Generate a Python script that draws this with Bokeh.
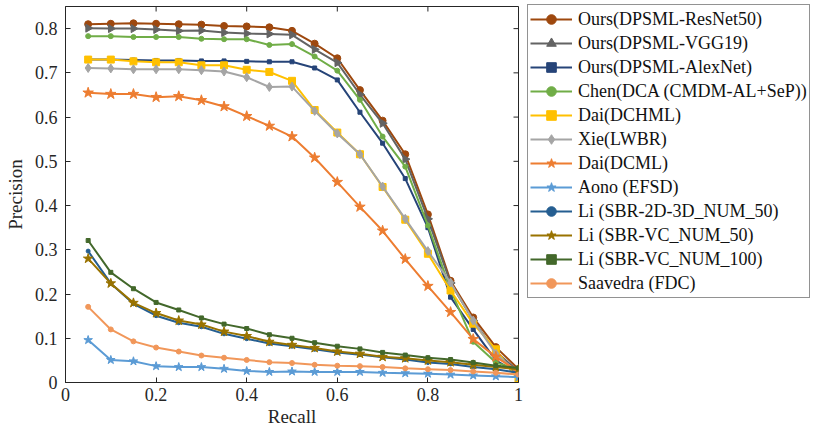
import math
from bokeh.plotting import figure
from bokeh.models import (Range1d, FixedTicker, Legend, LegendItem)
from bokeh.embed import file_html
from bokeh.resources import INLINE

# ---------------- data ----------------
recall = [0.05, 0.10, 0.15, 0.20, 0.25, 0.30, 0.35, 0.40, 0.45, 0.50,
          0.55, 0.60, 0.65, 0.70, 0.75, 0.80, 0.85, 0.90, 0.95, 1.00]

resnet50 = [0.810, 0.811, 0.812, 0.811, 0.810, 0.809, 0.806, 0.805, 0.803, 0.795,
            0.766, 0.733, 0.661, 0.592, 0.516, 0.380, 0.230, 0.147, 0.080, 0.030]
vgg19 = [0.801, 0.800, 0.800, 0.798, 0.795, 0.796, 0.791, 0.789, 0.788, 0.786,
         0.753, 0.723, 0.651, 0.586, 0.505, 0.370, 0.225, 0.140, 0.070, 0.025]
alexnet = [0.730, 0.730, 0.729, 0.728, 0.728, 0.727, 0.727, 0.726, 0.725, 0.725,
           0.711, 0.684, 0.611, 0.541, 0.461, 0.350, 0.193, 0.120, 0.050, 0.020]
chen = [0.783, 0.783, 0.781, 0.781, 0.781, 0.777, 0.776, 0.776, 0.763, 0.765,
        0.737, 0.705, 0.639, 0.556, 0.488, 0.355, 0.210, 0.092, 0.045, 0.030]
dchml = [0.730, 0.730, 0.726, 0.724, 0.724, 0.717, 0.717, 0.707, 0.702, 0.682,
         0.616, 0.565, 0.516, 0.442, 0.368, 0.291, 0.208, 0.133, 0.075, 0.005]
xie = [0.711, 0.710, 0.708, 0.708, 0.708, 0.706, 0.703, 0.690, 0.668, 0.669,
       0.614, 0.563, 0.516, 0.443, 0.370, 0.297, 0.226, 0.140, 0.065, 0.020]
dcml = [0.655, 0.652, 0.652, 0.645, 0.647, 0.638, 0.624, 0.602, 0.580, 0.556,
        0.508, 0.453, 0.397, 0.343, 0.279, 0.218, 0.159, 0.098, 0.058, 0.025]
aono = [0.096, 0.051, 0.048, 0.037, 0.035, 0.035, 0.031, 0.026, 0.024, 0.025,
        0.024, 0.024, 0.024, 0.022, 0.021, 0.020, 0.018, 0.016, 0.014, 0.012]
li_2d3d = [0.297, 0.224, 0.178, 0.151, 0.135, 0.126, 0.110, 0.099, 0.088, 0.082,
           0.075, 0.068, 0.063, 0.057, 0.052, 0.045, 0.042, 0.035, 0.030, 0.022]
li_vc50 = [0.280, 0.224, 0.180, 0.157, 0.140, 0.131, 0.115, 0.105, 0.092, 0.085,
           0.078, 0.070, 0.065, 0.058, 0.055, 0.050, 0.046, 0.040, 0.035, 0.030]
li_vc100 = [0.321, 0.249, 0.212, 0.181, 0.164, 0.146, 0.132, 0.122, 0.108, 0.100,
            0.090, 0.082, 0.076, 0.068, 0.062, 0.056, 0.052, 0.045, 0.038, 0.033]
saavedra = [0.171, 0.120, 0.093, 0.079, 0.070, 0.061, 0.056, 0.051, 0.046, 0.044,
            0.040, 0.038, 0.037, 0.035, 0.032, 0.030, 0.028, 0.025, 0.022, 0.018]

series_names = ["Ours(DPSML-ResNet50)", "Ours(DPSML-VGG19)", "Ours(DPSML-AlexNet)",
                "Chen(DCA (CMDM-AL+SeP))", "Dai(DCHML)", "Xie(LWBR)", "Dai(DCML)",
                "Aono (EFSD)", "Li (SBR-2D-3D_NUM_50)", "Li (SBR-VC_NUM_50)",
                "Li (SBR-VC_NUM_100)", "Saavedra (FDC)"]
series_values = [resnet50, vgg19, alexnet, chen, dchml, xie, dcml, aono,
                 li_2d3d, li_vc50, li_vc100, saavedra]

x_tick_values = [0, 0.2, 0.4, 0.6, 0.8, 1]
x_tick_labels = ["0", "0.2", "0.4", "0.6", "0.8", "1"]
y_tick_values = [0, 0.1, 0.2, 0.3, 0.4, 0.5, 0.6, 0.7, 0.8]
y_tick_labels = ["0", "0.1", "0.2", "0.3", "0.4", "0.5", "0.6", "0.7", "0.8"]
x_max = 1.0
y_max = 0.85

# ---------------- styles ----------------
colors = ["#9E480E", "#636363", "#264478", "#70AD47", "#FFC000", "#A5A5A5",
          "#ED7D31", "#5B9BD5", "#255E91", "#997300", "#43682B", "#F1975A"]
markers = ["circle", "triangle", "square", "circle", "square", "diamond",
           "star", "star", "circle", "star", "square", "circle"]
msizes = [7, 8, 4, 5, 7, 9, 11, 9, 4, 10, 4, 5]
mangles = [0, -math.pi / 2, 0, 0, 0, 0, 0, 0, 0, 0, 0, 0]

FONT = "Liberation Serif"
INK = "#262626"

p = figure(frame_width=453, frame_height=376, output_backend="svg",
           toolbar_location=None,
           x_range=Range1d(0, x_max), y_range=Range1d(0, y_max),
           min_border_left=65, min_border_right=300, min_border_top=6,
           min_border_bottom=56)
p.xgrid.visible = False
p.ygrid.visible = False
p.outline_line_color = INK
p.outline_line_width = 1
p.background_fill_color = "white"
p.border_fill_color = "white"

def style_axis(ax, ticks, labels):
    ax.ticker = FixedTicker(ticks=ticks)
    ax.major_tick_in = 5
    ax.major_tick_out = 0
    ax.minor_tick_line_color = None
    ax.axis_line_color = INK
    ax.major_tick_line_color = INK
    ax.major_label_text_font = FONT
    ax.major_label_text_color = INK
    ax.major_label_text_font_size = "18px"
    ax.major_label_overrides = {t: l for t, l in zip(ticks, labels)}
    ax.axis_label_text_font = FONT
    ax.axis_label_text_font_size = "19px"
    ax.axis_label_text_font_style = "normal"
    ax.axis_label_text_color = INK

style_axis(p.xaxis[0], x_tick_values, x_tick_labels)
style_axis(p.yaxis[0], y_tick_values, y_tick_labels)
p.xaxis[0].axis_label = "Recall"
p.xaxis[0].major_label_standoff = 5
p.xaxis[0].axis_label_standoff = 2
p.yaxis[0].axis_label = "Precision"
p.yaxis[0].major_label_standoff = 8
p.yaxis[0].axis_label_standoff = 6

# inward ticks on the top and right edges of the box
p.ray(x=x_tick_values, y=[y_max] * len(x_tick_values), length=5,
      length_units="screen", angle=-math.pi / 2, line_color=INK, line_width=1)
p.ray(x=[x_max] * len(y_tick_values), y=y_tick_values, length=5,
      length_units="screen", angle=math.pi, line_color=INK, line_width=1)

items = []
for name, vals, c, m, s, a in zip(series_names, series_values, colors, markers, msizes, mangles):
    r1 = p.line(recall, vals, line_color=c, line_width=2)
    r2 = p.scatter(recall, vals, marker=m, size=s, angle=a,
                   fill_color=c, line_color=c, line_width=1)
    items.append(LegendItem(label=name, renderers=[r1, r2]))

legend = Legend(items=items, location=(9, 84))
legend.label_text_font = FONT
legend.label_text_font_size = "18px"
legend.label_text_color = "#111111"
legend.glyph_width = 42
legend.glyph_height = 24
legend.label_height = 24
legend.label_standoff = 6
legend.spacing = 0
legend.padding = 2
legend.margin = 0
legend.border_line_color = INK
legend.border_line_width = 1
legend.background_fill_alpha = 1
p.add_layout(legend, "right")

open("out.html", "w").write(file_html(p, INLINE))
